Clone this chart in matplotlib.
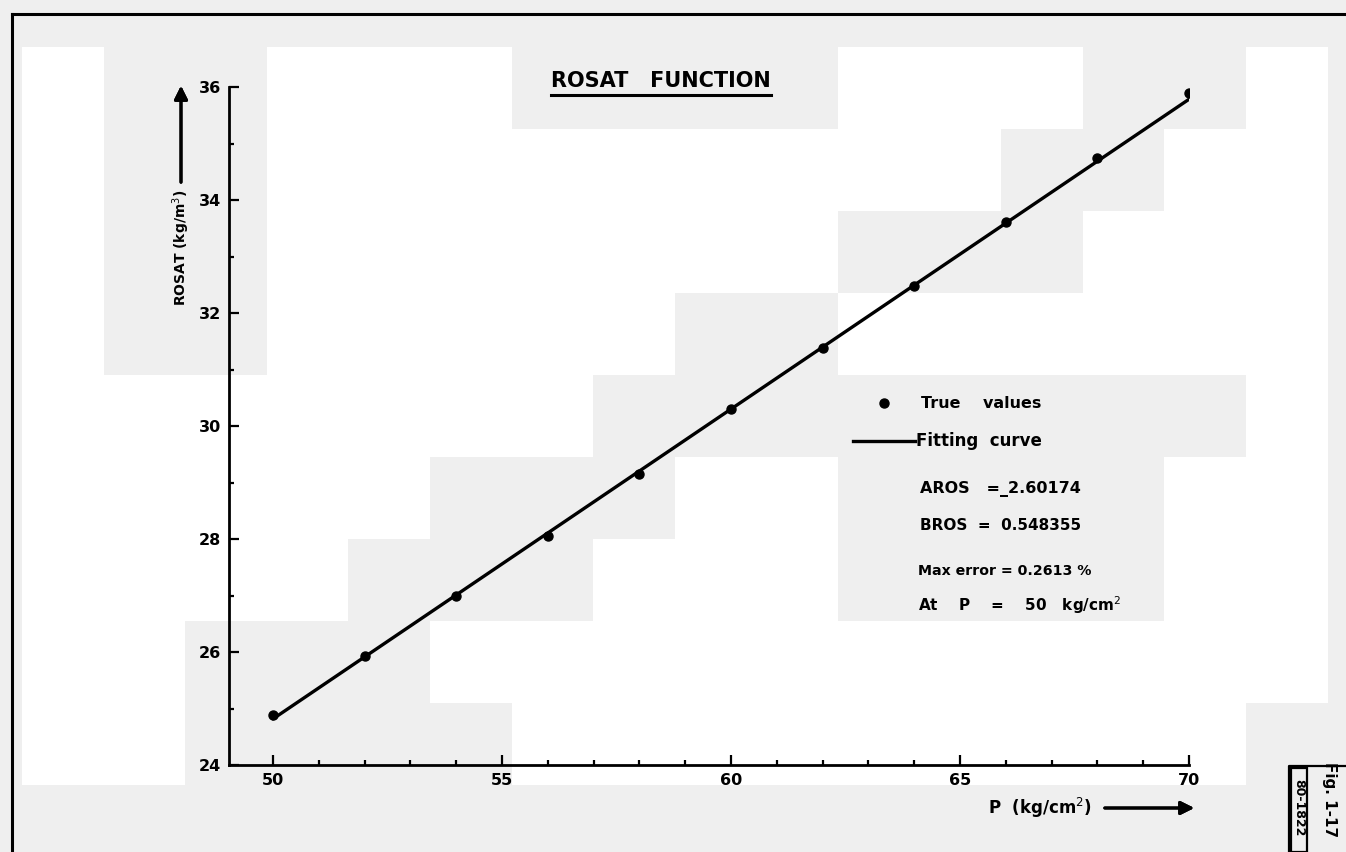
import matplotlib
matplotlib.use("Agg")
import matplotlib.pyplot as plt
from matplotlib.patches import Rectangle
from matplotlib.lines import Line2D
from matplotlib.ticker import MultipleLocator

# ---- data -------------------------------------------------------------
pressure = [50, 52, 54, 56, 58, 60, 62, 64, 66, 68, 70]          # kg/cm2
rosat_true = [24.885, 25.93, 26.99, 28.05, 29.15, 30.30,
              31.38, 32.48, 33.61, 34.74, 35.89]                  # kg/m3
aros = -2.60174
bros = 0.548355
max_error_pct = 0.2613
max_error_p = 50

x_major = [50, 55, 60, 65, 70]
y_major = [24, 26, 28, 30, 32, 34, 36]

fit_p = [pressure[0], pressure[-1]]
fit_rosat = [aros + bros * p for p in fit_p]

# ---- figure -----------------------------------------------------------
W, H = 1346, 852
fig = plt.figure(figsize=(W / 100, H / 100), dpi=100, facecolor="#efefef")


def fx(px):
    return px / W


def fy(py):
    return 1 - py / H


# paper tone: blocks of white over the light grey sheet
tone_rows = [
    "WGGWWWGGGGWWWGGW",
    "WGGWWWWWWWWWGGWW",
    "WGGWWWWWWWGGGWWW",
    "WGGWWWWWGGWWWWWW",
    "WWWWWWWGGGGGGGGW",
    "WWWWWGGGWWGGGGWW",
    "WWWWGGGWWWGGGGWW",
    "WWGGGWWWWWWWWWWW",
    "WWGGGGWWWWWWWWWG",
]
bx0, by0, bw, bh = 22, 47, 81.6, 82.0
for r, row in enumerate(tone_rows):
    for c, ch in enumerate(row):
        if ch == "W":
            x0 = bx0 + c * bw
            y1 = by0 + (r + 1) * bh
            fig.add_artist(Rectangle((fx(x0), fy(y1)), bw / W, bh / H,
                                     transform=fig.transFigure,
                                     facecolor="white", edgecolor="none",
                                     zorder=0))

# drawing-sheet frame
fig.add_artist(Line2D([fx(12), fx(1346)], [fy(14), fy(14)],
                      transform=fig.transFigure, color="black", lw=2.2))
fig.add_artist(Line2D([fx(12), fx(12)], [fy(14), fy(852)],
                      transform=fig.transFigure, color="black", lw=2.2))

# ---- axes -------------------------------------------------------------
ax = fig.add_axes([fx(229), fy(765), fx(1189) - fx(229), fy(87) - fy(765)])
ax.set_facecolor("none")
ax.set_xlim(49.04, 70)
ax.set_ylim(24, 36)
for side in ("top", "right"):
    ax.spines[side].set_visible(False)
for side in ("left", "bottom"):
    ax.spines[side].set_linewidth(2.0)
    ax.spines[side].set_color("black")

ax.set_xticks(x_major)
ax.set_yticks(y_major)
ax.xaxis.set_minor_locator(MultipleLocator(1))
ax.yaxis.set_minor_locator(MultipleLocator(1))
ax.tick_params(which="major", direction="in", length=7, width=1.6,
               labelsize=11.5, pad=6)
ax.tick_params(which="minor", direction="in", length=3.5, width=1.6)
for lab in ax.get_xticklabels() + ax.get_yticklabels():
    lab.set_fontweight("bold")

# fitted line and measured points
ax.plot(fit_p, fit_rosat, color="black", lw=2.4, solid_capstyle="round",
        zorder=3)
ax.plot(pressure, rosat_true, "o", color="black", ms=6.5, zorder=4)

# ---- text -------------------------------------------------------------
fig.text(fx(661), fy(81), "ROSAT   FUNCTION", ha="center",
         va="center", fontsize=15, fontweight="bold")
fig.add_artist(Line2D([fx(551), fx(771)], [fy(95), fy(95)],
                      transform=fig.transFigure, color="black", lw=2.2))

fig.text(fx(181), fy(248), "ROSAT (kg/m$^3$)", rotation=90, ha="center",
         va="center", fontsize=10, fontweight="bold")
fig.add_artist(plt.annotate("", xy=(fx(181), fy(83)),
                            xytext=(fx(181), fy(185)),
                            xycoords="figure fraction",
                            arrowprops=dict(arrowstyle="-|>", color="black",
                                            lw=2.2, mutation_scale=20)))

fig.text(fx(1040), fy(808), "P  (kg/cm$^2$)", ha="center", va="center",
         fontsize=12, fontweight="bold")
fig.add_artist(plt.annotate("", xy=(fx(1197), fy(808)),
                            xytext=(fx(1102), fy(808)),
                            xycoords="figure fraction",
                            arrowprops=dict(arrowstyle="-|>", color="black",
                                            lw=2.2, mutation_scale=20)))

# key and fit summary
fig.add_artist(Line2D([fx(884)], [fy(403)], transform=fig.transFigure,
                      marker="o", color="black", ms=6.5))
fig.text(fx(921), fy(404), "True    values", va="center", fontsize=11.5,
         fontweight="bold")
fig.add_artist(Line2D([fx(853), fx(915)], [fy(441), fy(441)],
                      transform=fig.transFigure, color="black", lw=2.4))
fig.text(fx(916), fy(441), "Fitting  curve", va="center", fontsize=12,
         fontweight="bold")
fig.text(fx(920), fy(489), "AROS   =_%.5f" % abs(aros), va="center",
         fontsize=11.5, fontweight="bold")
fig.text(fx(920), fy(526), "BROS  =  %.6f" % bros, va="center",
         fontsize=11, fontweight="bold")
fig.text(fx(918), fy(571), "Max error = %.4f %%" % max_error_pct,
         va="center", fontsize=10.2, fontweight="bold")
fig.text(fx(918), fy(605), "At    P    =    %d   kg/cm$^2$" % max_error_p,
         va="center", fontsize=11, fontweight="bold")

# figure reference block
fig.add_artist(Line2D([fx(1289), fx(1289), fx(1346)],
                      [fy(852), fy(766), fy(766)],
                      transform=fig.transFigure, color="black", lw=1.6))
fig.add_artist(Rectangle((fx(1291), fy(852)), 16 / W, 84 / H,
                         transform=fig.transFigure, facecolor="none",
                         edgecolor="black", lw=1.6))
fig.text(fx(1299), fy(808), "80-1822", rotation=-90, ha="center",
         va="center", fontsize=9, fontweight="bold")
fig.text(fx(1329), fy(800), "Fig. 1-17", rotation=-90, ha="center",
         va="center", fontsize=11, fontweight="bold")

fig.savefig("out.png", dpi=100, facecolor=fig.get_facecolor())
